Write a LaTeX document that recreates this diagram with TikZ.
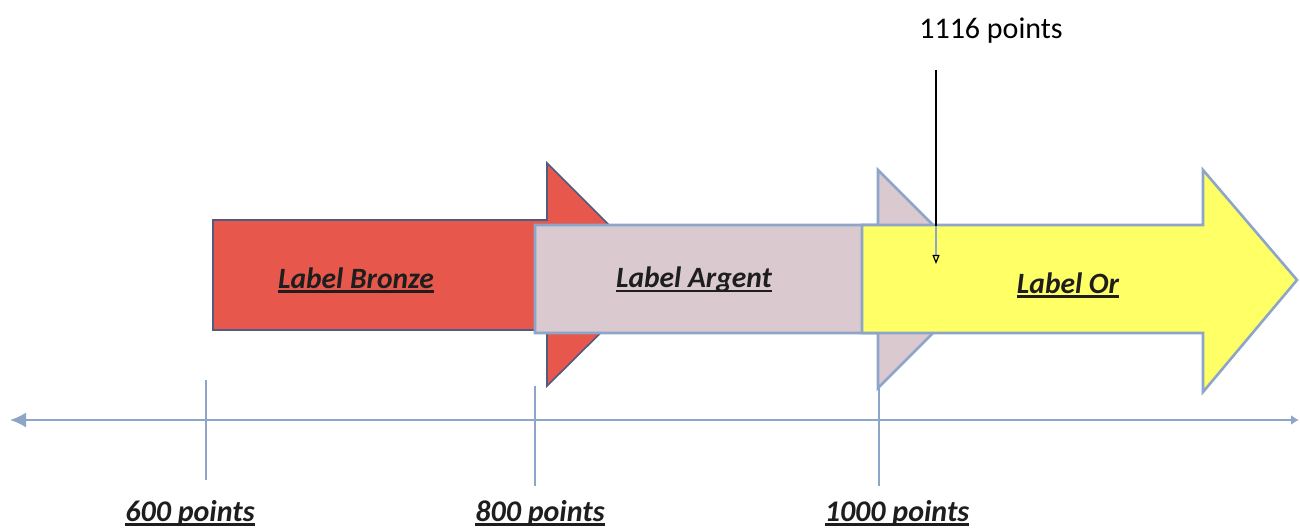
\documentclass[tikz,border=0pt]{standalone}
\usepackage{fontspec}
\setmainfont{Carlito}
\usetikzlibrary{arrows.meta}
\definecolor{axisblue}{HTML}{8DA5C8}
\definecolor{bronzefill}{HTML}{E8574C}
\definecolor{bronzeline}{HTML}{4F5C80}
\definecolor{argentfill}{HTML}{DACACF}
\definecolor{goldfill}{HTML}{FFFF66}
\definecolor{txt}{HTML}{1E1E1E}
\newcommand\myul[1]{\leavevmode\setbox0\hbox{#1}\rlap{\rule[-4.5pt]{\wd0}{2.2pt}}\box0}
\tikzset{
  shaftarrow/.style={line width=2.6pt, line join=miter},
  axisline/.style={draw=axisblue, line width=2pt},
  ticks/.style={draw=axisblue, line width=1.8pt},
  arrowlabel/.style={font=\fontsize{29.5}{32}\selectfont\bfseries\itshape, text=txt, inner sep=0pt},
  axislabel/.style={font=\fontsize{30}{32}\selectfont\bfseries\itshape, text=txt, inner sep=0pt},
  toplabel/.style={font=\fontsize{30}{32}\selectfont, text=black, inner sep=0pt}
}
\begin{document}
\begin{tikzpicture}[x=1pt,y=-1pt]
\useasboundingbox[fill=white] (0,0) rectangle (1300,529);
% bronze arrow
\filldraw[shaftarrow, fill=bronzefill, draw=bronzeline, line width=1.6pt]
  (213,220) -- (547,220) -- (547,163) -- (659,275) -- (547,386) -- (547,330) -- (213,330) -- cycle;
% argent arrow
\filldraw[shaftarrow, fill=argentfill, draw=axisblue]
  (535,225) -- (878,225) -- (878,170) -- (987,279) -- (878,388) -- (878,333) -- (535,333) -- cycle;
% gold arrow
\filldraw[shaftarrow, fill=goldfill, draw=axisblue]
  (862,225) -- (1203,225) -- (1203,170) -- (1297,280) -- (1203,392) -- (1203,333) -- (862,333) -- cycle;
% labels in arrows
\node[arrowlabel] (lb) at (356,280) {\myul{Label Bronze}};
\node[arrowlabel] (la) at (694,280) {\myul{Label Argent}};
\node[arrowlabel] (lo) at (1068,285) {\myul{Label Or}};
% axis
\coordinate (axL) at (10,420);
\coordinate (axR) at (1299,420);
\draw[axisline, {Latex[length=16pt,width=15pt]}-{Latex[length=8pt,width=10pt]}] (axL) -- (axR);
\coordinate (t6a) at (206,380); \coordinate (t6b) at (206,480);
\coordinate (t8a) at (535,386); \coordinate (t8b) at (535,486);
\coordinate (t10a) at (879,386); \coordinate (t10b) at (879,486);
\draw[ticks] (t6a) -- (t6b);
\draw[ticks] (t8a) -- (t8b);
\draw[ticks] (t10a) -- (t10b);
\node[axislabel] (p600) at (190,513) {\myul{600 points}};
\node[axislabel] (p800) at (540,513) {\myul{800 points}};
\node[axislabel] (p1000) at (897,513) {\myul{1000 points}};
% 1116 pointer
\node[toplabel] (p1116) at (991,31) {1116 points};
\coordinate (ptrA) at (936,70);
\coordinate (ptrB) at (936,226);
\coordinate (ptrC) at (936,264);
\draw[black, line width=1.6pt] (ptrA) -- (ptrB);
\draw[axisblue, line width=1.4pt, -{Triangle[open, black, length=9pt, width=7pt, line width=1.2pt]}] (ptrB) -- (ptrC);
\end{tikzpicture}
\end{document}
